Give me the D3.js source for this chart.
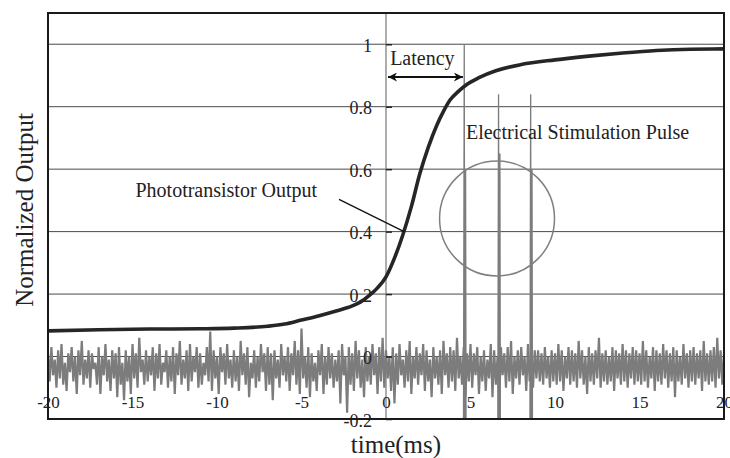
<!DOCTYPE html>
<html>
<head>
<meta charset="utf-8">
<script src="https://cdn.jsdelivr.net/npm/d3@7"></script>
<style>
  html, body { margin: 0; padding: 0; background: #fff; }
  svg { display: block; }
  text { font-family: "Liberation Serif", "Times New Roman", serif; fill: #222; }
</style>
</head>
<body>
<svg id="chart" width="730" height="458"></svg>
<script>
// ---------------- data ----------------
const xTicks = [-20, -15, -10, -5, 0, 5, 10, 15, 20];
const xTickLabels = ["-20", "-15", "-10", "-5", "0", "5", "10", "15", "20"];
const yTicks = [-0.2, 0, 0.2, 0.4, 0.6, 0.8, 1];
const yTickLabels = ["-0.2", "0", "0.2", "0.4", "0.6", "0.8", "1"];

// Phototransistor output (normalized) – time in ms
const photoTime  = [-20, -17, -14, -11, -9, -7, -6, -5, -4, -3, -2, -1.5, -1, -0.5, 0, 0.5, 1.0, 1.5, 2.0, 2.5, 3.0, 3.4, 3.8, 4.3, 4.8, 5.5, 6.5, 8, 10, 12, 14, 16, 18, 20];
const photoValue = [0.082, 0.086, 0.088, 0.089, 0.091, 0.097, 0.104, 0.117, 0.13, 0.145, 0.162, 0.175, 0.195, 0.22, 0.255, 0.315, 0.39, 0.48, 0.585, 0.67, 0.74, 0.785, 0.822, 0.85, 0.872, 0.893, 0.915, 0.935, 0.95, 0.962, 0.972, 0.98, 0.984, 0.985];

// Stimulation channel baseline noise, sampled every 0.1 ms from -20 ms
const stimStart = -20;
const stimStep = 0.1;
const stimNoise = [
  0.01,-0.08,0.03,-0.06,-0.01,-0.10,0.02,-0.07,0.04,-0.09,
  -0.02,-0.11,0.01,-0.05,0.03,-0.08,0.00,-0.12,0.02,-0.06,
  0.05,-0.09,-0.01,-0.07,0.02,-0.10,0.01,-0.04,-0.02,-0.09,
  0.03,-0.12,0.00,-0.06,0.04,-0.08,-0.01,-0.11,0.02,-0.07,
  0.01,-0.13,0.03,-0.09,-0.02,-0.14,0.02,-0.08,0.00,-0.12,
  0.04,-0.07,0.01,-0.10,0.06,-0.05,-0.01,-0.09,0.02,-0.08,
  0.00,-0.06,0.03,-0.11,0.01,-0.07,0.04,-0.09,-0.02,-0.05,
  0.02,-0.10,0.00,-0.08,0.03,-0.12,0.01,-0.06,0.05,-0.09,
  -0.01,-0.07,0.02,-0.11,0.04,-0.08,0.00,-0.05,0.03,-0.10,
  0.01,-0.09,-0.02,-0.06,0.03,-0.08,0.08,-0.11,0.02,-0.07,
  0.00,-0.12,0.03,-0.05,0.01,-0.09,0.04,-0.07,-0.01,-0.10,
  0.02,-0.08,0.00,-0.11,0.05,-0.06,0.01,-0.09,0.03,-0.13,
  -0.02,-0.07,0.02,-0.10,0.00,-0.08,0.04,-0.05,0.01,-0.11,
  0.03,-0.09,0.01,-0.14,0.02,-0.07,-0.01,-0.10,0.04,-0.06,
  0.00,-0.08,0.03,-0.11,0.01,-0.06,0.05,-0.09,0.02,-0.12,
  0.09,-0.07,0.00,-0.10,0.03,-0.13,0.01,-0.08,-0.02,-0.11,
  0.02,-0.06,0.04,-0.12,0.00,-0.09,0.03,-0.07,0.01,-0.10,
  -0.01,-0.08,0.02,-0.15,0.04,-0.06,0.00,-0.18,0.03,-0.09,
  0.01,-0.11,0.05,-0.07,0.02,-0.10,-0.01,-0.13,0.03,-0.08,
  0.00,-0.09,0.04,-0.06,0.01,-0.12,0.03,-0.08,0.06,-0.10,
  0.02,-0.07,0.00,-0.11,0.03,-0.15,0.01,-0.09,0.04,-0.06,
  -0.01,-0.10,0.02,-0.08,0.05,-0.12,0.00,-0.07,0.03,-0.09,
  0.01,-0.06,0.04,-0.11,0.02,-0.08,-0.01,-0.13,0.03,-0.07,
  0.00,-0.09,0.02,-0.12,0.05,-0.06,0.01,-0.10,0.03,-0.08,
  0.02,-0.11,0.06,-0.07,0.00,-0.09,0.03,-0.13,0.01,-0.08,
  0.04,-0.10,0.01,-0.06,0.03,-0.12,0.00,-0.08,0.02,-0.11,
  -0.01,-0.07,0.04,-0.13,0.02,-0.09,0.00,-0.15,0.03,-0.06,
  0.01,-0.10,0.03,-0.08,0.05,-0.12,0.00,-0.07,0.02,-0.09,
  0.03,-0.06,0.00,-0.11,0.04,-0.08,0.01,-0.10,0.02,-0.07,
  0.02,-0.08,0.01,-0.09,0.03,-0.07,0.00,-0.10,0.02,-0.08,
  0.01,-0.09,0.04,-0.08,0.02,-0.11,0.00,-0.07,0.03,-0.09,
  0.02,-0.08,0.01,-0.10,0.05,-0.07,0.02,-0.09,0.00,-0.12,
  0.03,-0.08,0.01,-0.09,0.02,-0.07,0.06,-0.10,0.01,-0.08,
  0.02,-0.09,0.00,-0.08,0.03,-0.11,0.02,-0.07,0.01,-0.09,
  0.04,-0.08,0.02,-0.10,0.01,-0.07,0.03,-0.09,0.02,-0.08,
  0.01,-0.09,0.05,-0.08,0.02,-0.10,0.00,-0.07,0.03,-0.11,
  0.02,-0.08,0.01,-0.09,0.04,-0.07,0.02,-0.10,0.01,-0.08,
  0.03,-0.13,0.02,-0.08,0.00,-0.09,0.04,-0.07,0.01,-0.10,
  0.02,-0.08,0.03,-0.09,0.01,-0.07,0.02,-0.11,0.05,-0.08,
  0.01,-0.09,0.02,-0.08,0.03,-0.10,0.06,-0.07,0.02,-0.09,
  0.01
];

// Electrical stimulation pulses (biphasic spikes)
const pulseTime   = [4.63, 6.66, 8.56];
const pulsePeak1  = [1.0, 0.84, 0.84];
const pulsePeak2  = [0.6, 0.65, 0.6];
const pulseLow    = -0.35;

// ---------------- layout ----------------
const svg = d3.select("#chart");
const margin = { left: 48, top: 13, right: 6, bottom: 39 };
const W = 730, H = 458;
const x = d3.scaleLinear().domain([-20, 20]).range([margin.left, W - margin.right]);
const y = d3.scaleLinear().domain([-0.2, 1.1]).range([H - margin.bottom, margin.top]);

const defs = svg.append("defs");
defs.append("clipPath").attr("id", "plotclip")
  .append("rect")
  .attr("x", x(-20)).attr("y", y(1.1))
  .attr("width", x(20) - x(-20)).attr("height", y(-0.2) - y(1.1));

// horizontal gridlines
svg.append("g").selectAll("line")
  .data(yTicks.filter(d => d > -0.2))
  .join("line")
  .attr("x1", x(-20)).attr("x2", x(20))
  .attr("y1", d => y(d)).attr("y2", d => y(d))
  .attr("stroke", "#4a4a4a").attr("stroke-width", 1);

// vertical line at t = 0
svg.append("line")
  .attr("x1", x(0)).attr("x2", x(0))
  .attr("y1", y(1.1)).attr("y2", y(-0.2))
  .attr("stroke", "#777").attr("stroke-width", 1.2);

// stimulation channel: baseline noise
const stimPts = stimNoise.map((v, i) => ({ t: stimStart + i * stimStep, v }));
svg.append("path")
  .datum(stimPts)
  .attr("clip-path", "url(#plotclip)")
  .attr("fill", "none")
  .attr("stroke", "#7c7c7c")
  .attr("stroke-width", 2.2)
  .attr("stroke-linejoin", "bevel")
  .attr("d", d3.line().x(d => x(d.t)).y(d => y(d.v)));

// stimulation channel: biphasic pulses
const pulseLine = d3.line().x(d => x(d.t)).y(d => y(d.v));
svg.append("g").attr("clip-path", "url(#plotclip)")
  .selectAll("path")
  .data(pulseTime.map((t, i) => [
    { t: t - 0.05, v: pulseLow },
    { t: t, v: pulsePeak1[i] },
    { t: t + 0.03, v: pulseLow },
    { t: t + 0.08, v: pulsePeak2[i] },
    { t: t + 0.11, v: pulseLow }
  ]))
  .join("path")
  .attr("fill", "none")
  .attr("stroke", "#7c7c7c")
  .attr("stroke-width", 1.3)
  .attr("d", pulseLine);

// phototransistor output
const photoPts = photoTime.map((t, i) => ({ t, v: photoValue[i] }));
svg.append("path")
  .datum(photoPts)
  .attr("clip-path", "url(#plotclip)")
  .attr("fill", "none")
  .attr("stroke", "#262626")
  .attr("stroke-width", 3.6)
  .attr("stroke-linejoin", "round")
  .attr("d", d3.line().curve(d3.curveMonotoneX).x(d => x(d.t)).y(d => y(d.v)));

// circle around pulses
const circT = 6.57, circV = 0.442, circR = 3.4;
svg.append("circle")
  .attr("cx", x(circT)).attr("cy", y(circV))
  .attr("r", x(circT + circR) - x(circT))
  .attr("fill", "none").attr("stroke", "#808080").attr("stroke-width", 1.5);

// y axis (labels to the left of t = 0, ticks to the right)
const yAxis = d3.axisLeft(y).tickValues(yTicks)
  .tickFormat((d, i) => yTickLabels[i])
  .tickSize(-6).tickPadding(14);
const gy = svg.append("g").attr("transform", `translate(${x(0)},0)`).call(yAxis);
gy.attr("font-family", null).attr("font-size", null);
gy.select(".domain").remove();
gy.selectAll(".tick line").attr("stroke", "#222").attr("stroke-width", 1.5);
gy.selectAll(".tick text")
  .style("font-family", "'Liberation Serif', serif").attr("font-size", 18).attr("fill", "#333")
  .attr("dy", "0.4em");

// x axis labels placed just above the bottom border
const xAxis = d3.axisBottom(x).tickValues(xTicks)
  .tickFormat((d, i) => xTickLabels[i])
  .tickSize(0).tickPadding(-23);
const gx = svg.append("g").attr("transform", `translate(0,${y(-0.2)})`).call(xAxis);
gx.attr("font-family", null).attr("font-size", null);
gx.select(".domain").remove();
gx.selectAll(".tick text")
  .style("font-family", "'Liberation Serif', serif").attr("font-size", 17).attr("fill", "#333");

// latency arrow
const latY = 0.895;
defs.append("marker").attr("id", "arrowEnd")
  .attr("viewBox", "0 0 10 10").attr("refX", 10).attr("refY", 5)
  .attr("markerWidth", 12).attr("markerHeight", 9).attr("markerUnits", "userSpaceOnUse")
  .attr("orient", "auto")
  .append("path").attr("d", "M0,0 L10,5 L0,10 L3,5 Z").attr("fill", "#111");
defs.append("marker").attr("id", "arrowStart")
  .attr("viewBox", "0 0 10 10").attr("refX", 0).attr("refY", 5)
  .attr("markerWidth", 12).attr("markerHeight", 9).attr("markerUnits", "userSpaceOnUse")
  .attr("orient", "auto")
  .append("path").attr("d", "M10,0 L0,5 L10,10 L7,5 Z").attr("fill", "#111");
svg.append("line")
  .attr("x1", x(0.12)).attr("x2", x(4.55))
  .attr("y1", y(latY)).attr("y2", y(latY))
  .attr("stroke", "#111").attr("stroke-width", 1.8)
  .attr("marker-start", "url(#arrowStart)").attr("marker-end", "url(#arrowEnd)");
svg.append("text")
  .attr("x", x(2.15)).attr("y", y(0.934))
  .attr("text-anchor", "middle").attr("font-size", 20)
  .text("Latency");

// annotations
svg.append("text")
  .attr("x", x(4.73)).attr("y", y(0.696))
  .attr("font-size", 20)
  .text("Electrical Stimulation Pulse");

svg.append("text")
  .attr("x", x(-9.45)).attr("y", y(0.51))
  .attr("text-anchor", "middle").attr("font-size", 20)
  .text("Phototransistor Output");
svg.append("line")
  .attr("x1", x(-2.78)).attr("y1", y(0.503))
  .attr("x2", x(1.07)).attr("y2", y(0.40))
  .attr("stroke", "#111").attr("stroke-width", 1.3);

// axis titles
svg.append("text")
  .attr("x", 396).attr("y", 453)
  .attr("text-anchor", "middle").attr("font-size", 25)
  .text("time(ms)");
svg.append("text")
  .attr("transform", "translate(33,210) rotate(-90)")
  .attr("text-anchor", "middle").attr("font-size", 25)
  .text("Normalized Output");

// plot border
svg.append("rect")
  .attr("x", x(-20)).attr("y", y(1.1))
  .attr("width", x(20) - x(-20)).attr("height", y(-0.2) - y(1.1))
  .attr("fill", "none").attr("stroke", "#1a1a1a").attr("stroke-width", 2);
</script>
</body>
</html>
